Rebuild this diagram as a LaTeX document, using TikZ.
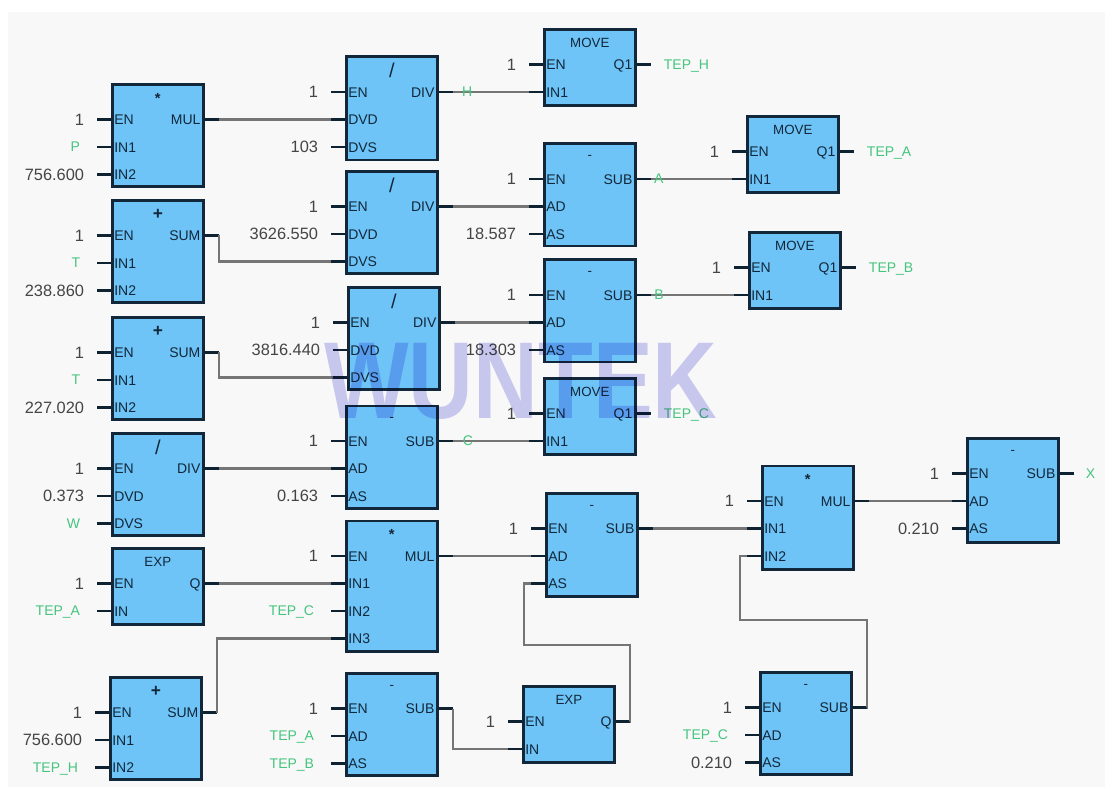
\documentclass[tikz,border=0pt]{standalone}
\usepackage{fontspec}
\setmainfont{Liberation Sans}
\newfontfamily\markfont[FakeStretch=0.82]{Liberation Sans Bold}
\usetikzlibrary{calc}
\definecolor{fbfill}{HTML}{6EC3F7}
\definecolor{fbedge}{HTML}{12283A}
\definecolor{varcol}{HTML}{45C47E}
\definecolor{valcol}{HTML}{454545}
\definecolor{wirecol}{HTML}{757575}
\definecolor{pagecol}{HTML}{F8F8F8}
\definecolor{markcol}{HTML}{CDCDF5}
\tikzset{
  x=0.75pt,y=-0.75pt,
  fbbox/.style={draw=fbedge,line width=2pt,fill=fbfill,rectangle,inner sep=0pt,minimum width=68.25pt},
  fbtitle/.style={font=\fontsize{10}{10}\selectfont,text=fbedge,inner sep=0pt,anchor=center},
  portin/.style={font=\fontsize{10.5}{10.5}\selectfont,text=fbedge,inner sep=0pt,anchor=west,text height=8pt,text depth=0pt},
  portout/.style={font=\fontsize{10.5}{10.5}\selectfont,text=fbedge,inner sep=0pt,anchor=east,text height=8pt,text depth=0pt},
  valtext/.style={font=\fontsize{12.3}{12.3}\selectfont,text=valcol,inner sep=0pt,text height=8.5pt,text depth=0pt,xshift=-0.5pt},
  vartext/.style={font=\fontsize{10.5}{10.5}\selectfont,text=varcol,inner sep=0pt,text height=8pt,text depth=1pt},
  varin/.style={vartext,xshift=-3.5pt},
  stub/.style={draw=fbedge!85!black,line width=1.6pt},
  wire/.style={draw=wirecol,line width=1.6pt},
}
\newcommand{\tslash}{{\fontsize{15}{15}\selectfont /}}
\newcommand{\tplus}{{\fontsize{13}{13}\selectfont\bfseries +}}
\newcommand{\tstar}{{\fontsize{11}{11}\selectfont\bfseries *}}
% #1 name, #2 left, #3 top, #4 height, #5 title, #6 output port text, #7 inputs: port/text/style
\newcommand{\fblock}[7]{%
  \node[fbbox,anchor=north west,minimum height=#4*0.75pt-2pt] (#1) at (#2,#3) {};
  \node[fbtitle] (#1-t) at ($(#1.north)+(0,15)$) {#5};
  \coordinate (#1-o) at ($(#1.north east)+(0,36.5)$);
  \coordinate (#1-oe) at ($(#1-o)+(14,0)$);
  \node[portout] (#1-op) at ($(#1-o)+(-4,0)$) {#6};
  \draw[stub] (#1-o) -- (#1-oe);
  \foreach \pp/\vv/\ss [count=\k] in {#7} {
    \coordinate (#1-\k) at ($(#1.north west)+(0,36.5+27.5*\k-27.5)$);
    \coordinate (#1-\k s) at ($(#1-\k)+(-14,0)$);
    \node[portin] (#1-p\k) at ($(#1-\k)+(3,0)$) {\pp};
    \draw[stub] (#1-\k) -- (#1-\k s);
    \ifx\ss\empty\else
      \node[\ss,anchor=east] (#1-v\k) at ($(#1-\k)+(-26,0)$) {\vv};
    \fi
  }
}
\begin{document}
\begin{tikzpicture}
\useasboundingbox (0,0) rectangle (1105,787);
\fill[white] (0,0) rectangle (1105,787);
\fill[pagecol] (8,12) rectangle (1105,787);

% left column
\fblock{mulA}{111}{83}{105}{\tstar}{MUL}{EN/1/valtext,IN1/P/varin,IN2/756.600/valtext}
\fblock{sumA}{111}{199}{105}{\tplus}{SUM}{EN/1/valtext,IN1/T/varin,IN2/238.860/valtext}
\fblock{sumB}{111}{316}{105}{\tplus}{SUM}{EN/1/valtext,IN1/T/varin,IN2/227.020/valtext}
\fblock{divW}{111}{432}{105}{\tslash}{DIV}{EN/1/valtext,DVD/0.373/valtext,DVS/W/varin}
\fblock{expA}{111}{547}{79}{EXP}{Q}{EN/1/valtext,IN/TEP\_A/varin}
\fblock{sumC}{109}{676}{105}{\tplus}{SUM}{EN/1/valtext,IN1/756.600/valtext,IN2/TEP\_H/varin}
% second column
\fblock{divA}{345}{55.5}{106}{\tslash}{DIV}{EN/1/valtext,DVD//,DVS/103/valtext}
\fblock{divB}{345}{170}{105}{\tslash}{DIV}{EN/1/valtext,DVD/3626.550/valtext,DVS//}
\fblock{divC}{347}{286}{105}{\tslash}{DIV}{EN/1/valtext,DVD/3816.440/valtext,DVS//}
\fblock{subC}{345}{404.5}{105}{-}{SUB}{EN/1/valtext,AD//,AS/0.163/valtext}
\fblock{mulB}{345}{519.5}{133}{\tstar}{MUL}{EN/1/valtext,IN1//,IN2/TEP\_C/varin,IN3//}
\fblock{subD}{345}{672}{105}{-}{SUB}{EN/1/valtext,AD/TEP\_A/varin,AS/TEP\_B/varin}
% third column
\fblock{moveH}{543}{28}{79}{MOVE}{Q1}{EN/1/valtext,IN1//}
\fblock{subA}{543}{142.5}{105}{-}{SUB}{EN/1/valtext,AD//,AS/18.587/valtext}
\fblock{subB}{543}{258.5}{105}{-}{SUB}{EN/1/valtext,AD//,AS/18.303/valtext}
\fblock{moveC}{543}{377}{79}{MOVE}{Q1}{EN/1/valtext,IN1//}
\fblock{subE}{545}{492}{106}{-}{SUB}{EN/1/valtext,AD//,AS//}
\fblock{expB}{522}{685}{79}{EXP}{Q}{EN/1/valtext,IN//}
% right part
\fblock{moveA}{746}{115}{79}{MOVE}{Q1}{EN/1/valtext,IN1//}
\fblock{moveB}{748}{231}{79}{MOVE}{Q1}{EN/1/valtext,IN1//}
\fblock{mulC}{761}{464.5}{106}{\tstar}{MUL}{EN/1/valtext,IN1//,IN2//}
\fblock{subF}{759}{671}{105}{-}{SUB}{EN/1/valtext,AD/TEP\_C/varin,AS/0.210/valtext}
\fblock{subX}{966}{437}{107}{-}{SUB}{EN/1/valtext,AD//,AS/0.210/valtext}

% output variables
\node[vartext,anchor=west] (tepH) at ($(moveH-oe)+(13,0)$) {TEP\_H};
\node[vartext,anchor=west] (tepA) at ($(moveA-oe)+(13,0)$) {TEP\_A};
\node[vartext,anchor=west] (tepB) at ($(moveB-oe)+(13,0)$) {TEP\_B};
\node[vartext,anchor=west] (tepC) at ($(moveC-oe)+(13,0)$) {TEP\_C};
\node[vartext,anchor=west] (outX) at ($(subX-oe)+(12,0)$) {X};

% wires
\draw[wire] (mulA-oe) -- (divA-2s);
\draw[wire] (divA-oe) -- node[vartext,pos=.19,anchor=center] (lblH) {H} (moveH-2s);
\draw[wire] (sumA-oe) -- (sumA-oe |- divB-3s) -- (divB-3s);
\draw[wire] (sumB-oe) -- (sumB-oe |- divC-3s) -- (divC-3s);
\draw[wire] (divB-oe) -- (subA-2s);
\draw[wire] (divC-oe) -- (subB-2s);
\draw[wire] (subA-oe) -- node[vartext,pos=.1,anchor=center] (lblA) {A} (moveA-2s);
\draw[wire] (subB-oe) -- node[vartext,pos=.1,anchor=center] (lblB) {B} (moveB-2s);
\draw[wire] (divW-oe) -- (subC-2s);
\draw[wire] (subC-oe) -- node[vartext,pos=.2,anchor=center] (lblC) {C} (moveC-2s);
\draw[wire] (expA-oe) -- (mulB-2s);
\draw[wire] (sumC-oe) -- (sumC-oe |- mulB-4s) -- (mulB-4s);
\draw[wire] (mulB-oe) -- (subE-2s);
\draw[wire] (subE-oe) -- (mulC-2s);
\draw[wire] (mulC-oe) -- (subX-2s);
\draw[wire] (subD-oe) -- (subD-oe |- expB-2s) -- (expB-2s);
\coordinate (loopA) at (630,645);
\coordinate (loopB) at (524,645);
\draw[wire] (expB-oe) -- (expB-oe -| loopA) -- (loopA) -- (loopB) -- (loopB |- subE-3) -- (subE-3s);
\coordinate (loopC) at (867,620);
\coordinate (loopD) at (740,620);
\draw[wire] (subF-oe) -- (subF-oe -| loopC) -- (loopC) -- (loopD) -- (loopD |- mulC-3) -- (mulC-3s);

% watermark
\begin{scope}[blend mode=multiply]
\node[text=markcol,inner sep=0pt,anchor=center,font=\fontsize{82}{82}\markfont\selectfont] (mark) at (521,381) {WUNTEK};
\end{scope}
\end{tikzpicture}
\end{document}
